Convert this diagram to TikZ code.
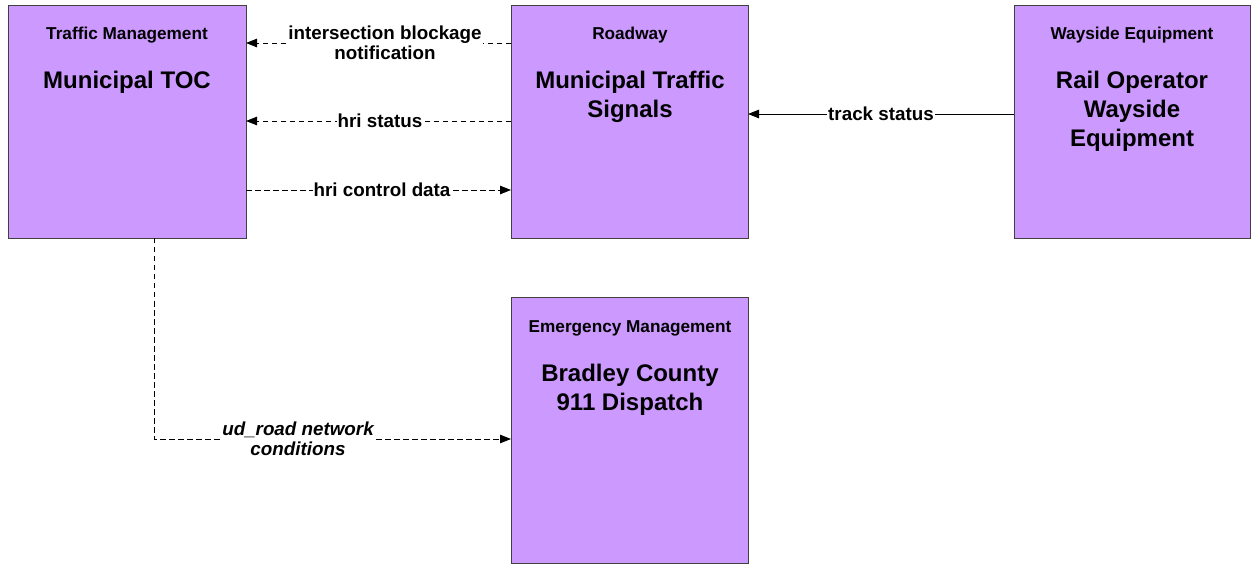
\documentclass[tikz,border=0pt]{standalone}
\usepackage{fontspec}
\setmainfont{Liberation Sans}
\usetikzlibrary{arrows.meta}
\definecolor{boxfill}{HTML}{CC99FF}
\definecolor{boxline}{HTML}{404040}
\tikzset{
  ent/.style={draw=boxline, fill=boxfill, line width=0.8pt, anchor=north west, inner sep=0pt},
  cat/.style={font=\bfseries\fontsize{17.2}{20}\selectfont, anchor=base, inner sep=0pt},
  ttl/.style={font=\bfseries\fontsize{24}{29}\selectfont, align=center, anchor=north, inner sep=0pt},
  flow/.style={line width=0.9pt, -{Triangle[length=11pt,width=8.5pt]}},
  dflow/.style={flow, dash pattern=on 5.5pt off 3.5pt},
  lbl/.style={font=\bfseries\fontsize{18.8}{20.5}\selectfont, fill=white, inner sep=1pt, align=center},
}
\begin{document}
\begin{tikzpicture}[x=1pt,y=-1pt]
\useasboundingbox (0,0) rectangle (1251,564);
% boxes
\node[ent, minimum width=238pt, minimum height=233pt] (toc) at (8,5) {};
\node[ent, minimum width=237pt, minimum height=233pt] (sig) at (511,5) {};
\node[ent, minimum width=236pt, minimum height=233pt] (way) at (1014,5) {};
\node[ent, minimum width=237pt, minimum height=266pt] (ems) at (511,297) {};
% texts
\node[cat] (tocc) at (127,40) {Traffic Management};
\node[ttl] (toct) at (127,71) {Municipal TOC};
\node[cat] (sigc) at (630,40) {Roadway};
\node[ttl] (sigt) at (630,71) {Municipal Traffic\\Signals};
\node[cat] (wayc) at (1132,40) {Wayside Equipment};
\node[ttl] (wayt) at (1132,71) {Rail Operator\\Wayside\\Equipment};
\node[cat] (emsc) at (630,332) {Emergency Management};
\node[ttl] (emst) at (630,364) {Bradley County\\911 Dispatch};
% coordinates
\coordinate (a1) at (511,43); \coordinate (a2) at (246,43);
\coordinate (b1) at (511,121); \coordinate (b2) at (246,121);
\coordinate (c1) at (246,190); \coordinate (c2) at (511,190);
\coordinate (d1) at (1014,114); \coordinate (d2) at (748,114);
\coordinate (e1) at (154,238); \coordinate (e2) at (154,439); \coordinate (e3) at (511,439);
% flows
\draw[dflow] (a1) -- (a2);
\node[lbl] (la) at (385,43) {intersection blockage\\notification};
\draw[dflow] (b1) -- (b2);
\node[lbl] (lb) at (380,121) {hri status};
\draw[dflow] (c1) -- (c2);
\node[lbl] (lc) at (382,190) {hri control data};
\draw[flow] (d1) -- (d2);
\node[lbl] (ld) at (881,114) {track status};
\draw[dflow] (e1) -- (e2) -- (e3);
\node[lbl, font=\bfseries\itshape\fontsize{18.8}{20.5}\selectfont] (le) at (298,439) {ud\_road network\\conditions};
\end{tikzpicture}
\end{document}
